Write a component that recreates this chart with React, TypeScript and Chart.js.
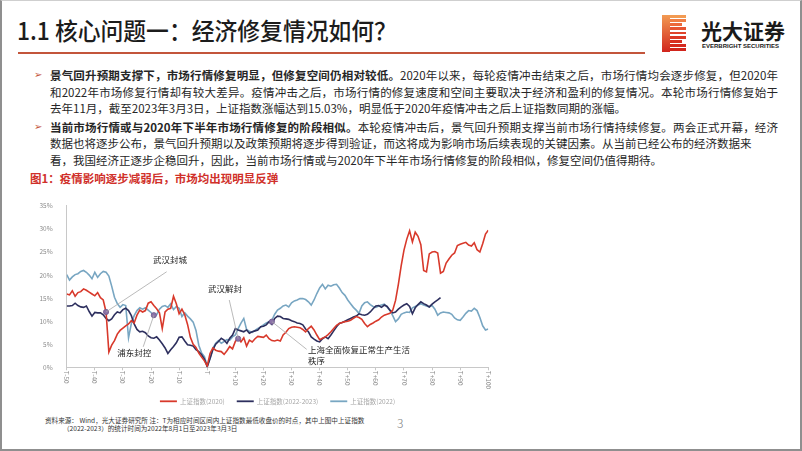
import React, { useEffect, useRef } from "react";
import { Chart, registerables } from "chart.js";

Chart.register(...registerables);

const FONT = '"Noto Sans CJK SC", "Noto Sans", sans-serif';

// ---- data ----
const firstStep = -50;

const sh2020 = [
  15.9, 15.7, 16.6, 15.4, 16.2, 16.4, 17.0, 16.7, 16.3, 15.9,
  15.5, 16.2, 15.1, 14.6, 12.0, 3.3, 4.8, 5.8, 7.2, 8.0,
  8.5, 9.0, 9.4, 10.1, 9.6, 11.3, 12.4, 12.0, 12.3, 13.9,
  14.2, 13.4, 12.7, 11.8, 8.4, 12.0, 12.6, 12.8, 15.4, 13.8,
  11.6, 12.6, 11.4, 9.3, 6.5, 5.0, 4.3, 3.1, 2.2, 1.4,
  0.3, 3.0, 4.2, 3.7, 3.5, 3.4, 2.8, 3.6, 4.5, 4.0,
  5.6, 6.4, 5.5, 6.4, 4.6, 5.9, 5.5, 6.2, 6.7, 6.6,
  6.5, 7.0, 6.2, 5.8, 5.7, 5.9, 5.7, 7.0, 7.6, 8.4,
  8.7, 8.8, 8.7, 8.6, 8.2, 7.7, 8.4, 8.9, 8.1, 7.0,
  6.0, 6.3, 6.6, 7.1, 7.7, 8.4, 9.1, 9.5, 9.7, 9.9,
  10.0, 10.2, 10.6, 11.0, 10.8, 10.4, 9.5, 8.8, 9.3, 9.6,
  10.0, 10.3, 10.9, 11.3, 11.5, 11.7, 12.4, 14.5, 18.0, 22.0,
  25.4, 27.8, 29.6, 27.2, 29.3, 28.4, 26.6, 21.0, 20.7, 24.6,
  25.0, 25.1, 24.8, 20.4, 20.8, 22.6, 23.5, 24.3, 24.8, 26.4,
  26.7, 26.9, 27.1, 26.5, 26.3, 27.0, 25.5, 25.0, 26.8, 28.9,
  29.7,
];

const sh2022to2023 = [
  13.3, 13.3, 13.4, 13.9, 13.4, 13.1, 13.0, 13.3, 12.1, 11.1,
  11.9, 11.8, 11.8, 11.4, 10.6, 10.1, 10.5, 11.4, 12.0, 11.8,
  12.5, 12.8, 12.3, 11.2, 9.4, 8.2, 7.7, 7.8, 7.5, 6.8,
  6.4, 6.3, 6.6, 5.9, 5.1, 4.2, 3.0, 3.8, 4.5, 5.3,
  6.5, 6.6, 5.7, 4.9, 4.8, 4.6, 3.8, 3.4, 2.7, 1.8,
  0.1, 1.9, 3.8, 5.0, 5.6, 6.3, 5.9, 5.2, 6.3, 7.0,
  8.4, 8.1, 7.9, 7.7, 8.1, 7.4, 7.7, 7.9, 8.1, 8.8,
  8.9, 9.2, 9.9, 9.3, 10.6, 11.1, 11.0, 10.6, 10.5, 10.4,
  10.1, 9.9, 9.6, 9.5, 9.2, 8.3, 7.7, 6.6, 6.1, 5.7,
  5.5, 6.2, 6.6, 6.2, 7.0, 7.9, 8.8, 9.5, 9.7, 10.0,
  10.3, 10.6, 10.9, 11.1, 11.6, 11.4, 11.3, 11.5, 12.0, 12.7,
  13.3, 13.4, 13.0, 13.5, 13.2, 12.4, 11.8, 12.0, 12.6, 13.1,
  13.5, 13.8, 13.2, 11.6, 12.9, 13.6, 14.2, 13.8, 13.5, 13.1,
  13.7, 14.2, 14.6, 15.1,
];

const sh2022 = [
  20.1, 18.9, 19.6, 20.1, 20.3, 20.8, 21.0, 20.6, 20.0, 19.2,
  20.6, 19.5, 20.3, 20.8, 20.6, 19.8, 17.6, 15.2, 13.8, 13.0,
  13.6, 13.4, 6.4, 9.5, 11.2, 12.3, 12.9, 12.6, 12.9, 12.4,
  11.9, 11.0, 11.4, 12.6, 13.2, 13.4, 13.0, 13.8, 12.5, 13.2,
  12.8, 11.0, 11.8, 11.1, 10.5, 9.8, 8.0, 4.8, 3.1, 2.3,
  0.3, 1.9, 4.1, 5.2, 5.8, 5.2, 5.6, 6.0, 5.9, 6.6,
  7.0, 8.4, 9.6, 10.6, 8.2, 7.8, 7.6, 8.0, 8.4, 8.7,
  9.2, 9.6, 9.9, 10.2, 11.5, 12.4, 12.8, 13.3, 13.5, 13.1,
  14.0, 14.4, 14.6, 14.9, 14.9, 14.7, 14.2, 13.5, 14.6, 16.0,
  17.2, 18.0, 17.0, 17.8, 17.6, 17.9, 18.0, 17.2, 16.2, 15.6,
  14.6, 13.8, 13.0, 12.4, 11.7, 13.3, 14.0, 14.2, 13.6, 13.2,
  13.0, 13.3, 13.5, 13.7, 13.1, 12.3, 11.2, 9.9, 10.5, 11.5,
  11.8, 12.0, 11.9, 12.9, 13.2, 13.5, 13.8, 13.5, 13.3, 13.1,
  13.4, 12.6, 11.3, 11.8, 12.0, 11.9, 11.8, 11.5, 10.7, 10.3,
  10.2, 10.9, 11.7, 12.3, 12.2, 12.8, 12.3, 10.8, 9.0, 8.1,
  8.3,
];

const seriesLabels = ["上证指数(2020)", "上证指数(2022-2023)", "上证指数(2022)"];
const xTickLabels = [
  "T-50", "T-40", "T-30", "T-20", "T-10", "T", "T+10", "T+20",
  "T+30", "T+40", "T+50", "T+60", "T+70", "T+80", "T+90", "T+100",
];
const yTickLabels = ["0%", "5%", "10%", "15%", "20%", "25%", "30%", "35%"];

const eventNames = [["武汉封城"], ["浦东封控"], ["武汉解封"], ["上海全面恢复正常生产生活", "秩序"]];
const eventSteps = [-36, -19, 11, 23];
const eventValues = [12.0, 11.3, 6.2, 9.9];

// ---- styling ----
const seriesColors = ["#d8392b", "#2d2f5e", "#78a6c2"];
const eventCallouts = [
  { lx: 60.6, ly: -40.2, tx: 64, ty: -52, align: "center" },
  { lx: -10.6, ly: 31.6, tx: -19.6, ty: 37.4, align: "center" },
  { lx: -8.9, ly: -38.7, tx: -13.2, ty: -49.7, align: "center" },
  { lx: 34.8, ly: 27.7, tx: 36, ty: 28.4, align: "left" },
];

const toPoints = (arr: number[]) => arr.map((v, i) => ({ x: firstStep + i, y: v }));

const decorPlugin = {
  id: "decor",
  afterDraw(chart: any) {
    const ctx = chart.ctx as CanvasRenderingContext2D;
    const area = chart.chartArea;
    const xs = chart.scales.x;
    const ys = chart.scales.y;

    // x tick labels rotated clockwise
    ctx.save();
    ctx.font = `6.5px ${FONT}`;
    ctx.fillStyle = "#8c8c8c";
    ctx.textAlign = "left";
    ctx.textBaseline = "middle";
    xTickLabels.forEach((lab, i) => {
      const px = xs.getPixelForValue(firstStep + i * 10);
      ctx.save();
      ctx.translate(px, area.bottom + 3.5);
      ctx.rotate(Math.PI / 2);
      ctx.fillText(lab, 0, 0);
      ctx.restore();
    });
    ctx.restore();

    // callouts
    ctx.save();
    ctx.font = `8.5px ${FONT}`;
    ctx.fillStyle = "#1e1e1e";
    ctx.textBaseline = "middle";
    eventSteps.forEach((s, i) => {
      const mx = xs.getPixelForValue(s);
      const my = ys.getPixelForValue(eventValues[i]);
      const c = eventCallouts[i];
      ctx.strokeStyle = "#a8a8a8";
      ctx.lineWidth = 0.8;
      ctx.beginPath();
      ctx.moveTo(mx, my);
      ctx.lineTo(mx + c.lx, my + c.ly);
      ctx.stroke();
      ctx.textAlign = c.align as CanvasTextAlign;
      eventNames[i].forEach((t, j) => {
        ctx.fillText(t, mx + c.tx, my + c.ty + j * 10.7);
      });
    });
    ctx.restore();

    // legend
    ctx.save();
    ctx.font = `6.5px ${FONT}`;
    ctx.textBaseline = "middle";
    ctx.textAlign = "left";
    const lineW = 17, gap = 3, itemGap = 12;
    const widths = seriesLabels.map((l) => lineW + gap + ctx.measureText(l).width);
    const total = widths.reduce((a, b) => a + b, 0) + itemGap * (widths.length - 1);
    let x = (area.left + area.right) / 2 - total / 2;
    const y = area.bottom + 34;
    seriesLabels.forEach((l, i) => {
      ctx.strokeStyle = seriesColors[i];
      ctx.lineWidth = 1.8;
      ctx.beginPath();
      ctx.moveTo(x, y);
      ctx.lineTo(x + lineW, y);
      ctx.stroke();
      ctx.fillStyle = "#a6a6a6";
      ctx.fillText(l, x + lineW + gap, y);
      x += widths[i] + itemGap;
    });
    ctx.restore();
  },
};

const lineDs = (i: number, arr: number[]) => ({
  label: seriesLabels[i],
  data: toPoints(arr),
  borderColor: seriesColors[i],
  backgroundColor: seriesColors[i],
  borderWidth: 1.6,
  pointRadius: 0,
  tension: 0,
  order: i + 1,
});

function ChartBox() {
  const ref = useRef<HTMLCanvasElement>(null);
  useEffect(() => {
    const chart = new Chart(ref.current as HTMLCanvasElement, {
      type: "line",
      data: {
        datasets: [
          lineDs(0, sh2020),
          lineDs(1, sh2022to2023),
          lineDs(2, sh2022),
          {
            label: "events",
            data: eventSteps.map((s, i) => ({ x: s, y: eventValues[i] })),
            showLine: false,
            pointRadius: 2.6,
            pointBackgroundColor: "#8b72a8",
            pointBorderColor: "#6e5a8c",
            pointBorderWidth: 0.8,
            order: 0,
          } as any,
        ],
      },
      options: {
        responsive: false,
        animation: false,
        devicePixelRatio: 1,
        layout: { padding: { top: 9.7, right: 21.7, left: 0, bottom: 0 } },
        plugins: { legend: { display: false }, tooltip: { enabled: false } },
        scales: {
          x: {
            type: "linear",
            min: -50,
            max: 100,
            ticks: { stepSize: 10, display: false },
            grid: { display: true, drawOnChartArea: false, drawTicks: true, tickLength: 3, color: "#c8c8c8" },
            border: { display: true, color: "#c8c8c8" },
            afterFit: (s: any) => { s.height = 43.7; },
          },
          y: {
            min: 0,
            max: 35,
            ticks: {
              stepSize: 5,
              callback: (v: any) => yTickLabels[Math.round(Number(v) / 5)],
              color: "#8c8c8c",
              font: { size: 6.5, family: FONT },
              padding: 6,
            },
            grid: { display: false },
            border: { display: true, color: "#c8c8c8" },
            afterFit: (s: any) => { s.width = 46.7; },
          },
        },
      } as any,
      plugins: [decorPlugin],
    });
    return () => chart.destroy();
  }, []);
  return (
    <canvas
      ref={ref}
      width={490}
      height={215}
      style={{ position: "absolute", left: 20, top: 196, width: 490, height: 215 }}
    />
  );
}

const bodyLines = [
  { top: 67, bold: "景气回升预期支撑下，市场行情修复明显，但修复空间仍相对较低。", text: "2020年以来，每轮疫情冲击结束之后，市场行情均会逐步修复，但2020年", justify: true, bullet: true },
  { top: 83.7, bold: "", text: "和2022年市场修复行情却有较大差异。疫情冲击之后，市场行情的修复速度和空间主要取决于经济和盈利的修复情况。本轮市场行情修复始于", justify: true, bullet: false },
  { top: 100.3, bold: "", text: "去年11月，截至2023年3月3日，上证指数涨幅达到15.03%，明显低于2020年疫情冲击之后上证指数同期的涨幅。", justify: false, bullet: false },
  { top: 118.7, bold: "当前市场行情或与2020年下半年市场行情修复的阶段相似。", text: "本轮疫情冲击后，景气回升预期支撑当前市场行情持续修复。两会正式开幕，经济", justify: true, bullet: true },
  { top: 135.3, bold: "", text: "数据也将逐步公布，景气回升预期以及政策预期将逐步得到验证，而这将成为影响市场后续表现的关键因素。从当前已经公布的经济数据来", justify: false, bullet: false },
  { top: 152, bold: "", text: "看，我国经济正逐步企稳回升，因此，当前市场行情或与2020年下半年市场行情修复的阶段相似，修复空间仍值得期待。", justify: false, bullet: false },
];

const logoStripes = [16, 16, 12, 16, 16, 16, 12, 16, 16];
const logoColors = ["#f29a52", "#f07f45", "#ec6a3c", "#e65533", "#e0442b", "#db3825", "#d72f21", "#d4291e", "#d1251c"];

export default function App() {
  return (
    <div
      style={{
        position: "fixed",
        left: 0,
        top: 0,
        width: 802,
        height: 451,
        background: "#fff",
        fontFamily: FONT,
        overflow: "hidden",
      }}
    >
      {/* title */}
      <div
        style={{
          position: "absolute",
          left: 17,
          top: 15,
          fontSize: 24,
          lineHeight: "30px",
          fontWeight: 500,
          color: "#1c1c1c",
          whiteSpace: "nowrap",
          transform: "scaleX(0.95)",
          transformOrigin: "left center",
        }}
      >
        1.1 核心问题一：经济修复情况如何？
      </div>
      <div style={{ position: "absolute", left: 18, top: 52, width: 627, height: 2, background: "#c3553b" }} />

      {/* logo */}
      <div style={{ position: "absolute", left: 662, top: 15, width: 24, height: 37 }}>
        <div
          style={{
            position: "absolute",
            left: 0,
            top: 0,
            width: 8,
            height: 37,
            background: "linear-gradient(#f29a52, #d1251c)",
          }}
        />
        {logoStripes.map((w, i) => (
          <div
            key={i}
            style={{
              position: "absolute",
              left: 8,
              top: i * 4.15,
              width: w,
              height: 2.8,
              background: logoColors[i],
            }}
          />
        ))}
      </div>
      <div
        style={{
          position: "absolute",
          left: 701,
          top: 16,
          fontSize: 21,
          lineHeight: "28px",
          fontWeight: 700,
          color: "#1a1a1a",
          whiteSpace: "nowrap",
        }}
      >
        光大证券
      </div>
      <div
        style={{
          position: "absolute",
          left: 702,
          top: 43,
          fontSize: 6,
          lineHeight: "7px",
          fontWeight: 700,
          color: "#1a1a1a",
          whiteSpace: "nowrap",
          fontFamily: '"Liberation Sans", Arial, sans-serif',
        }}
      >
        EVERBRIGHT SECURITIES
      </div>

      {/* body text */}
      {bodyLines.map((l, i) => (
        <React.Fragment key={i}>
          {l.bullet && (
            <div
              style={{
                position: "absolute",
                left: 34,
                top: l.top,
                fontSize: 10,
                lineHeight: "16px",
                color: "#c4553a",
                fontFamily: '"DejaVu Sans", sans-serif',
              }}
            >
              ➢
            </div>
          )}
          <div
            style={{
              position: "absolute",
              left: 50,
              top: l.top,
              width: 728,
              fontSize: 11.5,
              lineHeight: "16px",
              color: "#262626",
              whiteSpace: "nowrap",
              textAlign: l.justify ? "justify" : "left",
              textAlignLast: l.justify ? "justify" : "left",
            } as any}
          >
            {l.bold && <b style={{ fontWeight: 700 }}>{l.bold}</b>}
            {l.text}
          </div>
        </React.Fragment>
      ))}

      <div
        style={{
          position: "absolute",
          left: 30,
          top: 170.3,
          fontSize: 11.5,
          lineHeight: "16px",
          fontWeight: 700,
          color: "#d0302a",
          whiteSpace: "nowrap",
        }}
      >
        图1：疫情影响逐步减弱后，市场均出现明显反弹
      </div>

      <ChartBox />

      {/* footnote */}
      <div
        style={{
          position: "absolute",
          left: 45,
          top: 416,
          fontSize: 6.6,
          lineHeight: "8px",
          color: "#333",
          whiteSpace: "nowrap",
        }}
      >
        资料来源： Wind，光大证券研究所 注：T为相应时间区间内上证指数最低收盘价的时点，其中上图中上证指数
      </div>
      <div
        style={{
          position: "absolute",
          left: 63,
          top: 424,
          fontSize: 6.6,
          lineHeight: "8px",
          color: "#333",
          whiteSpace: "nowrap",
        }}
      >
        （2022-2023）的统计时间为2022年8月1日至2023年3月3日
      </div>
      <div
        style={{
          position: "absolute",
          left: 397,
          top: 415,
          fontSize: 12,
          lineHeight: "16px",
          color: "#808080",
          fontWeight: 300,
        }}
      >
        3
      </div>

      {/* slide frame */}
      <div
        style={{
          position: "absolute",
          left: 0,
          top: 0,
          width: 802,
          height: 451,
          boxSizing: "border-box",
          borderLeft: "2px solid #8f8f8f",
          borderRight: "2px solid #8f8f8f",
          borderBottom: "2px solid #8f8f8f",
          borderTop: "1px solid #cfcfcf",
          pointerEvents: "none",
        }}
      />
    </div>
  );
}
